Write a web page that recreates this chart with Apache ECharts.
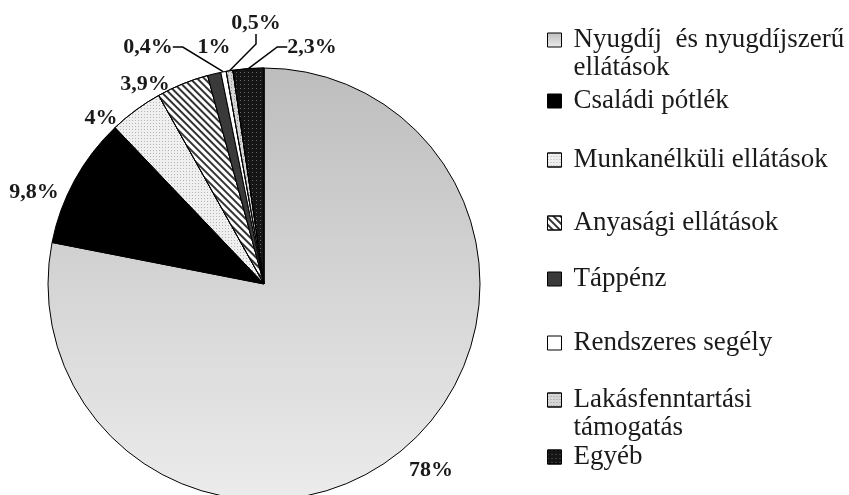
<!DOCTYPE html>
<html>
<head>
<meta charset="utf-8">
<script src="https://cdn.jsdelivr.net/npm/echarts@6/dist/echarts.min.js"></script>
<style>
  html, body { margin: 0; padding: 0; background: #fff; }
  #chart { width: 849px; height: 495px; }
</style>
</head>
<body>
<div id="chart"></div>
<script>
// categories and their shares (%)
const categories = [
  'Nyugdíj  és nyugdíjszerű\nellátások',
  'Családi pótlék',
  'Munkanélküli ellátások',
  'Anyasági ellátások',
  'Táppénz',
  'Rendszeres segély',
  'Lakásfenntartási\ntámogatás',
  'Egyéb'
];
const shares = [78, 9.8, 4, 3.9, 1, 0.4, 0.5, 2.3];

// label anchor points (text centre), legend rows (icon centre y)
const labelAnchors = [[431, 470], [34, 192], [101, 118], [145, 84], [214, 47], [148, 47], [256, 23], [312, 47]];
const legendRows = [40, 101, 160, 223, 279, 343, 400, 457];
const withLine = [false, false, false, false, false, true, true, true];

const serif = 'Liberation Serif, Times New Roman, serif';

const sliceStyles = [
  {
    color: new echarts.graphic.LinearGradient(0, 0, 0, 1, [
      { offset: 0, color: '#bdbdbd' },
      { offset: 1, color: '#ececec' }
    ])
  },
  { color: '#000000' },
  { color: '#efefef', decal: { symbol: 'rect', symbolSize: 1, dashArrayX: [1, 2], dashArrayY: [1, 2], color: '#b5b5b5' } },
  { color: '#ffffff', decal: { symbol: 'rect', symbolSize: 1, dashArrayX: [1, 0], dashArrayY: [2, 3], rotation: Math.PI / 4, color: '#333333' } },
  { color: '#3a3a3a' },
  { color: '#ffffff' },
  { color: '#d6d6d6', decal: { symbol: 'rect', symbolSize: 1, dashArrayX: [1, 2], dashArrayY: [1, 2], color: '#999999' } },
  { color: '#151515', decal: { symbol: 'rect', symbolSize: 1, dashArrayX: [1, 3], dashArrayY: [1, 3], color: '#666666' } }
];

const pieData = categories.map(function (name, i) {
  return {
    name: name,
    value: shares[i],
    itemStyle: sliceStyles[i],
    labelLine: { show: withLine[i] }
  };
});

// one legend per row so the uneven spacing of the original can be kept;
// two-line entries get a blank first line so the icon sits on the first text line
const legends = categories.map(function (name, i) {
  const twoLines = name.indexOf('\n') >= 0;
  return {
    data: [name],
    orient: 'vertical',
    left: 542,
    top: twoLines ? legendRows[i] - 47 : legendRows[i] - 19,
    icon: 'rect',
    itemWidth: 14,
    itemHeight: 14,
    selectedMode: false,
    formatter: function (n) {
      return twoLines ? ' \n' + n : n;
    },
    itemStyle: { borderColor: '#000', borderWidth: 1 },
    textStyle: {
      fontFamily: serif,
      fontSize: 27,
      lineHeight: 28,
      color: '#1a1a1a',
      padding: [0, 0, 0, 7]
    }
  };
});

const myChart = echarts.init(document.getElementById('chart'));
let option;

option = {
  backgroundColor: '#fff',
  animation: false,
  legend: legends,
  series: [
    {
      type: 'pie',
      center: [264, 284],
      radius: 216,
      startAngle: 90,
      clockwise: true,
      avoidLabelOverlap: false,
      minShowLabelAngle: 0,
      itemStyle: { borderColor: '#000', borderWidth: 1 },
      label: {
        show: true,
        position: 'outside',
        fontFamily: serif,
        fontWeight: 'bold',
        fontSize: 22,
        color: '#1a1a1a',
        formatter: function (p) {
          return String(p.value).replace('.', ',') + '%';
        }
      },
      labelLine: {
        length: 14,
        length2: 10,
        lineStyle: { color: '#000', width: 1.5 }
      },
      labelLayout: function (params) {
        const p = labelAnchors[params.dataIndex];
        return { x: p[0], y: p[1], align: 'center', verticalAlign: 'middle' };
      },
      emphasis: { disabled: true },
      data: pieData
    }
  ]
};

option && myChart.setOption(option);
</script>
</body>
</html>
